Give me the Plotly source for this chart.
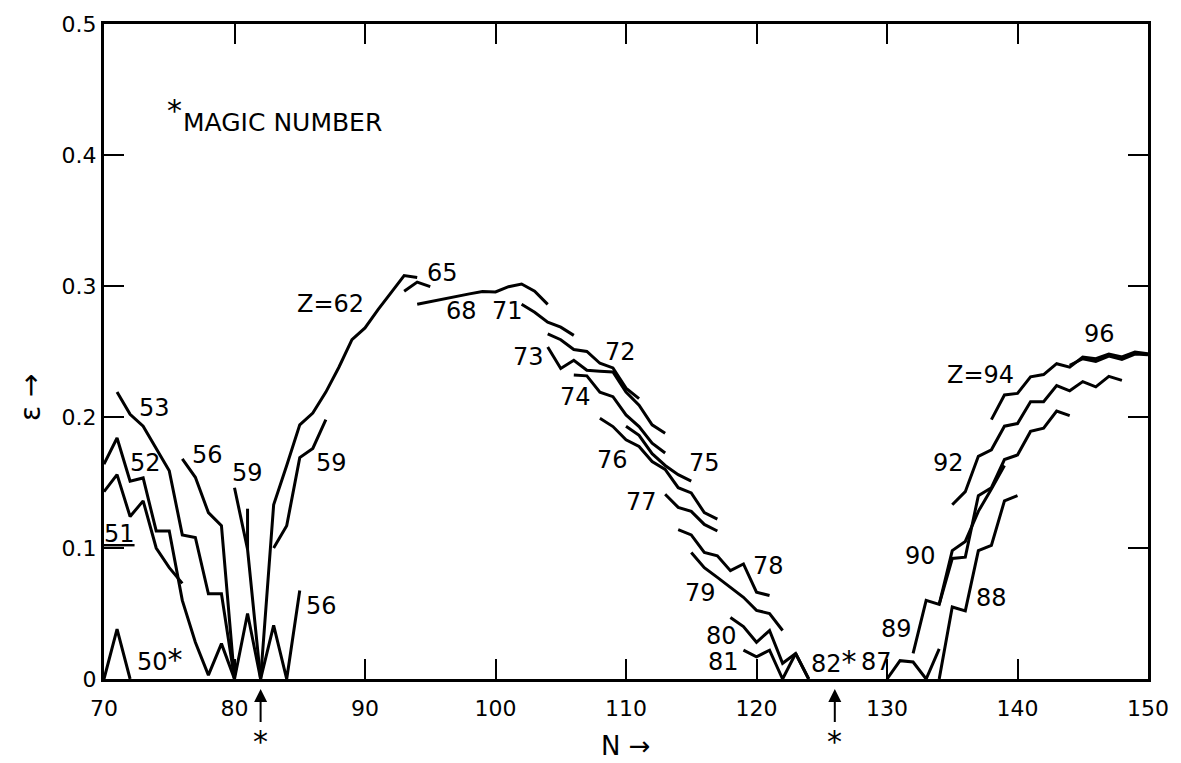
import plotly.graph_objects as go

# ---- data: neutron number N vs deformation epsilon, one curve per proton number Z ----
N_z50 = [70, 71, 72]
E_z50 = [0.0, 0.038, 0.0]

N_z51 = [70, 71, 72, 73, 74, 75, 76]
E_z51 = [0.143, 0.156, 0.124, 0.136, 0.100, 0.085, 0.073]

N_z52 = [70, 71, 72, 73, 74, 75, 76, 77, 78, 79, 80]
E_z52 = [0.164, 0.184, 0.151, 0.1535, 0.113, 0.113, 0.060, 0.028, 0.003, 0.027, 0.0]

N_z53 = [71, 72, 73, 74, 75, 76, 77, 78, 79, 80]
E_z53 = [0.219, 0.202, 0.193, 0.176, 0.159, 0.110, 0.108, 0.065, 0.065, 0.0]

N_z56 = [76, 77, 78, 79, 80, 81, 82, 83, 84, 85]
E_z56 = [0.168, 0.154, 0.127, 0.117, 0.0, 0.050, 0.0, 0.041, 0.0, 0.0675]

N_z59a = [80, 81, 82]
E_z59a = [0.146, 0.099, 0.0]
N_z59b = [81, 81]
E_z59b = [0.130, 0.099]
N_z59c = [83, 84, 85, 86, 87]
E_z59c = [0.100, 0.117, 0.169, 0.176, 0.198]

N_z62 = [82, 83, 84, 85, 86, 87, 88, 89, 90, 91, 92, 93, 94]
E_z62 = [0.0, 0.133, 0.163, 0.194, 0.203, 0.219, 0.238, 0.259, 0.268, 0.282, 0.295, 0.308, 0.3065]

N_z65 = [93, 94, 95]
E_z65 = [0.296, 0.303, 0.2995]

N_z68 = [94, 95, 96, 97, 98, 99, 100, 101, 102, 103, 104]
E_z68 = [0.286, 0.288, 0.2905, 0.292, 0.294, 0.2958, 0.2955, 0.2995, 0.3015, 0.296, 0.286]

N_z71 = [102, 103, 104, 105, 106]
E_z71 = [0.286, 0.280, 0.2724, 0.2686, 0.2623]

N_z72 = [104, 105, 106, 107, 108, 109, 110, 111]
E_z72 = [0.2635, 0.259, 0.2515, 0.250, 0.241, 0.2375, 0.222, 0.214]

N_z73 = [104, 105, 106, 107, 108, 109, 110, 111, 112, 113]
E_z73 = [0.2534, 0.237, 0.2433, 0.2357, 0.235, 0.2344, 0.219, 0.209, 0.194, 0.1876]

N_z74 = [106, 107, 108, 109, 110, 111, 112, 113]
E_z74 = [0.232, 0.2314, 0.219, 0.2155, 0.2016, 0.1927, 0.180, 0.1725]

N_z75 = [110, 111, 112, 113, 114, 115]
E_z75 = [0.193, 0.186, 0.172, 0.163, 0.156, 0.151]

N_z76 = [108, 109, 110, 111, 112, 113, 114, 115, 116, 117]
E_z76 = [0.199, 0.1927, 0.1826, 0.1775, 0.166, 0.160, 0.146, 0.142, 0.127, 0.122]

N_z77 = [113, 114, 115, 116, 117]
E_z77 = [0.141, 0.131, 0.128, 0.118, 0.113]

N_z78 = [114, 115, 116, 117, 118, 119, 120, 121]
E_z78 = [0.114, 0.110, 0.0966, 0.094, 0.0827, 0.0878, 0.0663, 0.0637]

N_z79 = [115, 116, 117, 118, 119, 120, 121, 122]
E_z79 = [0.0966, 0.085, 0.0776, 0.070, 0.0624, 0.0524, 0.050, 0.037]

N_z80 = [118, 119, 120, 121, 122, 123, 124]
E_z80 = [0.047, 0.040, 0.028, 0.037, 0.012, 0.0195, 0.0]

N_z81 = [119, 120, 121, 122, 123, 124]
E_z81 = [0.022, 0.017, 0.022, 0.0, 0.0195, 0.0]

N_z87 = [130, 131, 132, 133, 134]
E_z87 = [0.0, 0.014, 0.013, 0.0, 0.023]

N_z88 = [134, 135, 136, 137, 138, 139, 140]
E_z88 = [0.0, 0.055, 0.052, 0.098, 0.102, 0.136, 0.140]

N_z89 = [132, 133, 134, 135, 136, 137, 138, 139]
E_z89 = [0.0195, 0.060, 0.057, 0.098, 0.105, 0.128, 0.145, 0.163]

N_z90 = [134, 135, 136, 137, 138, 139, 140, 141, 142, 143, 144]
E_z90 = [0.057, 0.092, 0.093, 0.140, 0.146, 0.1675, 0.171, 0.189, 0.1915, 0.2046, 0.201]

N_z92 = [135, 136, 137, 138, 139, 140, 141, 142, 143, 144, 145, 146, 147, 148]
E_z92 = [0.133, 0.143, 0.170, 0.175, 0.193, 0.195, 0.2117, 0.2117, 0.224, 0.220, 0.227, 0.223, 0.231, 0.228]

N_z94 = [138, 139, 140, 141, 142, 143, 144, 145, 146, 147, 148, 149, 150]
E_z94 = [0.198, 0.2168, 0.218, 0.2307, 0.2324, 0.2407, 0.238, 0.2458, 0.2445, 0.248, 0.2458, 0.2496, 0.2483]

N_z96 = [144, 145, 146, 147, 148, 149, 150]
E_z96 = [0.2395, 0.2445, 0.2425, 0.2465, 0.244, 0.248, 0.2475]

# curve labels: text, N, epsilon
STAR = "<span style='font-size:30px'>*</span>"
label_text = ["53", "52", "<u>51</u>", "56", "59", "59", "56", "50" + STAR, "Z=62", "65",
              "68", "71", "73", "72", "74", "76", "75", "77", "78", "79",
              "80", "81", "82" + STAR, "87", "89", "88", "90", "92", "Z=94", "96"]
label_N = [73.9, 73.2, 71.2, 77.9, 81.0, 87.4, 86.7, 74.3, 87.35, 95.95,
           97.4, 100.9, 102.5, 109.6, 106.15, 109.0, 116.0, 111.2, 120.9, 115.7,
           117.3, 117.5, 125.9, 129.2, 130.7, 138.0, 132.6, 134.7, 137.2, 146.25]
label_E = [0.207, 0.165, 0.111, 0.171, 0.157, 0.165, 0.056, 0.015, 0.286, 0.310,
           0.281, 0.281, 0.246, 0.250, 0.2155, 0.167, 0.165, 0.135, 0.086, 0.066,
           0.033, 0.013, 0.013, 0.013, 0.038, 0.062, 0.094, 0.165, 0.232, 0.263]

magic_N = [82, 126]

curves = [
    (N_z50, E_z50), (N_z51, E_z51), (N_z52, E_z52), (N_z53, E_z53), (N_z56, E_z56),
    (N_z59a, E_z59a), (N_z59b, E_z59b), (N_z59c, E_z59c), (N_z62, E_z62), (N_z65, E_z65),
    (N_z68, E_z68), (N_z71, E_z71), (N_z72, E_z72), (N_z73, E_z73), (N_z74, E_z74),
    (N_z75, E_z75), (N_z76, E_z76), (N_z77, E_z77), (N_z78, E_z78), (N_z79, E_z79),
    (N_z80, E_z80), (N_z81, E_z81), (N_z87, E_z87), (N_z88, E_z88), (N_z89, E_z89),
    (N_z90, E_z90), (N_z92, E_z92), (N_z94, E_z94), (N_z96, E_z96),
]

FONT = "DejaVu Sans"
fig = go.Figure()
for n, e in curves:
    fig.add_trace(go.Scatter(x=n, y=e, mode="lines",
                             line=dict(color="black", width=3),
                             hoverinfo="skip", showlegend=False))

annotations = []
for t, n, e in zip(label_text, label_N, label_E):
    annotations.append(dict(x=n, y=e, xref="x", yref="y", text=t, showarrow=False,
                            font=dict(family=FONT, size=24, color="black")))

annotations.append(dict(x=75.4, y=0.434, xref="x", yref="y",
                        text="*", showarrow=False,
                        font=dict(family=FONT, size=30, color="black")))
annotations.append(dict(x=75.87, y=0.425, xref="x", yref="y", xanchor="left",
                        text="MAGIC NUMBER", showarrow=False,
                        font=dict(family=FONT, size=25, color="black")))

for m in magic_N:
    annotations.append(dict(x=m, y=0, xref="x", yref="y", yshift=-10,
                            text="*", showarrow=True, ax=0, ay=52,
                            arrowhead=2, arrowsize=1.3, arrowwidth=2, arrowcolor="black",
                            font=dict(family=FONT, size=30, color="black")))

annotations.append(dict(x=0.5, y=-0.128, xref="paper", yref="paper",
                        text="N \u2192", showarrow=False,
                        font=dict(family=FONT, size=26, color="black")))
annotations.append(dict(x=-0.088, y=0.43, xref="paper", yref="paper", textangle=-90,
                        text="\u03b5 \u2192", showarrow=False,
                        font=dict(family=FONT, size=28, color="black")))

axis_common = dict(showline=True, linecolor="black", linewidth=3, mirror="ticks",
                   ticks="inside", ticklen=20, tickwidth=2, tickcolor="black",
                   showgrid=False, zeroline=False,
                   tickfont=dict(family=FONT, size=22, color="black"))

fig.update_xaxes(range=[70, 150], tickvals=[70, 80, 90, 100, 110, 120, 130, 140, 150],
                 ticklabelstandoff=8, **axis_common)
fig.update_yaxes(range=[0, 0.5], tickvals=[0, 0.1, 0.2, 0.3, 0.4, 0.5],
                 ticktext=["0", "0.1", "0.2", "0.3", "0.4", "0.5"],
                 ticklabelstandoff=0, **axis_common)

fig.update_layout(width=1181, height=763, margin=dict(l=104, r=26, t=20, b=84),
                  paper_bgcolor="white", plot_bgcolor="white",
                  annotations=annotations, showlegend=False)

fig.write_html("out.html", config={"displayModeBar": False})
